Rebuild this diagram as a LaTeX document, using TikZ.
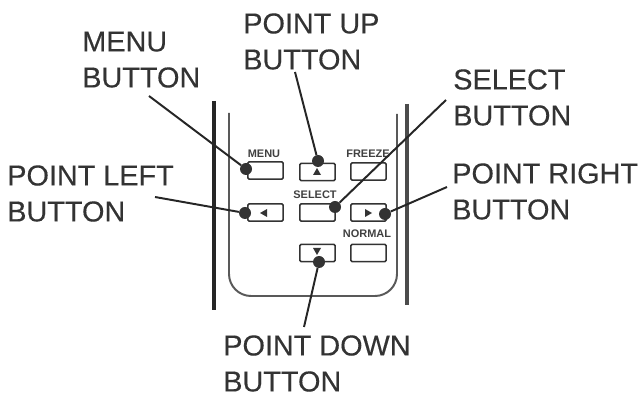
\documentclass[tikz,border=0pt]{standalone}
\usepackage{fontspec}
\setmainfont{Liberation Sans}
\newfontfamily\calloutfont[FakeBold=0.35]{Liberation Sans}
\tikzset{
	callout/.style={anchor=south west, inner sep=0pt, align=left, text=black!80, font=\calloutfont\fontsize{20.5}{25.6}\selectfont},
	keycap/.style={draw=black!80, line width=1.1pt, rounded corners=0.8pt, minimum width=0.88cm, minimum height=0.43cm, inner sep=0pt},
	keyname/.style={inner sep=0pt, text=black!75, font=\fontsize{7.8}{9}\selectfont\bfseries},
	pin/.style={circle, fill=black!80, minimum size=0.3cm, inner sep=0pt},
	leader/.style={draw=black!85, line width=1.4pt},
	glyph/.style={fill=black!80}
}
\begin{document}
\begin{tikzpicture}[x=0.025cm, y=-0.025cm]
	\useasboundingbox (0,0) rectangle (642,398);
	% case of the remote
	\draw[line width=2.9pt, color=black!85] (214,101) -- (214,310);
	\draw[line width=2.9pt, color=black!70] (407,104) -- (407,305);
	\draw[line width=1.4pt, color=black!65, rounded corners=0.55cm] (229,113) -- (229,296) -- (397,296) -- (397,114);
	% keys
	\node[keycap] (menukey) at (265.5,170.5) {};
	\node[keycap] (upkey) at (317.5,172) {};
	\node[keycap] (freezekey) at (368.5,171.5) {};
	\node[keycap] (leftkey) at (265.5,212.5) {};
	\node[keycap] (selectkey) at (317.5,212.5) {};
	\node[keycap] (rightkey) at (368.5,212.5) {};
	\node[keycap] (downkey) at (317.5,253) {};
	\node[keycap] (normalkey) at (368.5,253) {};
	\node[keyname] (menuname) at (264,154) {MENU};
	\node[keyname] (freezename) at (368,154) {FREEZE};
	\node[keyname] (selectname) at (315,195) {SELECT};
	\node[keyname] (normalname) at (367,234) {NORMAL};
	% arrows on the keys
	\fill[glyph] (317,168) -- (321,175) -- (313,175) -- cycle;
	\fill[glyph] (260,213) -- (267,209) -- (267,217) -- cycle;
	\fill[glyph] (372,213) -- (365,209) -- (365,217) -- cycle;
	\fill[glyph] (317,255) -- (321,248) -- (313,248) -- cycle;
	% labels
	\node[callout] (menulabel) at (82,88) {MENU\\BUTTON};
	\node[callout] (uplabel) at (243,70) {POINT UP\\BUTTON};
	\node[callout] (selectlabel) at (453,126) {SELECT\\BUTTON};
	\node[callout] (leftlabel) at (7,222) {POINT LEFT\\BUTTON};
	\node[callout] (rightlabel) at (452,220) {POINT RIGHT\\BUTTON};
	\node[callout] (downlabel) at (223,392) {POINT DOWN\\BUTTON};
	% pins and leaders
	\node[pin] (menupin) at (246,169) {};
	\node[pin] (uppin) at (318,161) {};
	\node[pin] (leftpin) at (245,213) {};
	\node[pin] (selectpin) at (335,207) {};
	\node[pin] (rightpin) at (385,214) {};
	\node[pin] (downpin) at (319,262) {};
	\coordinate (menuend) at (149,96);
	\coordinate (upend) at (295,72);
	\coordinate (leftend) at (155,197);
	\coordinate (selectend) at (446,100);
	\coordinate (rightend) at (447,187);
	\coordinate (downend) at (304,327);
	\draw[leader] (menuend) -- (menupin);
	\draw[leader] (upend) -- (uppin);
	\draw[leader] (leftend) -- (leftpin);
	\draw[leader] (selectend) -- (selectpin);
	\draw[leader] (rightend) -- (rightpin);
	\draw[leader] (downend) -- (downpin);
\end{tikzpicture}
\end{document}
